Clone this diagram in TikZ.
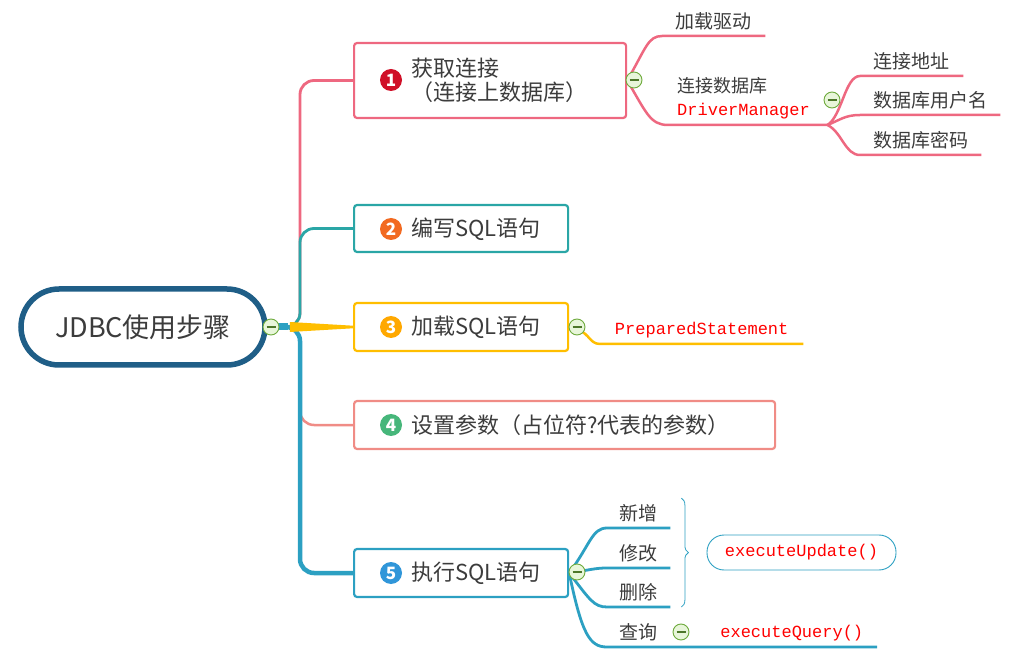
\documentclass[tikz,border=0pt]{standalone}
\usepackage{fontspec}
\setmainfont{Noto Sans CJK SC}
\setmonofont{Liberation Mono}
\usetikzlibrary{positioning, decorations.pathreplacing}
\definecolor{rootblue}{RGB}{31, 94, 135}
\definecolor{pinkline}{RGB}{238, 104, 128}
\definecolor{tealline}{RGB}{42, 166, 166}
\definecolor{amberline}{RGB}{255, 190, 0}
\definecolor{salmonline}{RGB}{240, 140, 134}
\definecolor{blueline}{RGB}{44, 160, 194}
\definecolor{textgray}{RGB}{60, 60, 60}
\definecolor{codered}{RGB}{255, 0, 0}
\definecolor{foldgreen}{RGB}{110, 170, 60}
\definecolor{foldfill}{RGB}{232, 246, 218}
\definecolor{dotred}{RGB}{208, 16, 40}
\definecolor{dotorange}{RGB}{242, 106, 33}
\definecolor{dotamber}{RGB}{255, 168, 0}
\definecolor{dotgreen}{RGB}{70, 182, 122}
\definecolor{dotblue}{RGB}{48, 150, 217}

\tikzset{
  topic/.style={draw=#1, line width=2.2pt, rounded corners=3pt, fill=white},
  numdot/.style={circle, fill=#1, text=white, inner sep=0pt, minimum size=22pt, font=\fontsize{17}{17}\selectfont\bfseries},
  fold/.style={circle, draw=foldgreen, line width=0.9pt, fill=foldfill, inner sep=0pt, minimum size=16pt,
    path picture={\draw[foldgreen!70!black, line width=1.2pt] ([xshift=3.5pt]path picture bounding box.west) -- ([xshift=-3.5pt]path picture bounding box.east);}},
  leaf/.style={anchor=south west, inner xsep=0pt, inner ysep=6pt, text=textgray, font=\fontsize{19}{22}\selectfont},
  code/.style={text=codered, font=\ttfamily\fontsize{17}{20}\selectfont},
}

\begin{document}
\begin{tikzpicture}[x=1pt, y=-1pt, font=\fontsize{22}{24}\selectfont, text=textgray]
  \useasboundingbox (0,0) rectangle (1010,660);

  % central topic
  \node[draw=rootblue, line width=5.5pt, rounded corners=38pt, minimum width=244pt, minimum height=76pt,
        font=\fontsize{27}{30}\selectfont] (root) at (143,327) {JDBC使用步骤};

  % the five steps
  \foreach \n/\y/\w/\h/\col in {1/80.5/272/75/pinkline, 2/228.5/214/47/tealline, 3/327/214/48/amberline,
                                 4/425/421/48/salmonline, 5/573/214/48/blueline}
    \node[topic=\col, minimum width=\w pt, minimum height=\h pt, anchor=west] (b\n) at (353,\y) {};

  \foreach \n/\y/\col/\txt in {1/80/dotred/{获取连接\\（连接上数据库）}, 2/229/dotorange/{编写SQL语句},
                               3/327/dotamber/{加载SQL语句}, 4/425/dotgreen/{设置参数（占位符?代表的参数）},
                               5/573/dotblue/{执行SQL语句}} {
    \node[numdot=\col] (d\n) at (391,\y) {\n};
    \node[anchor=west, align=left, inner sep=0pt] (t\n) at (411,\y) {\txt};
  }

  % main branches
  \draw[pinkline, line width=2.8pt, rounded corners=14pt] (root.east) -| ([xshift=-53]b1.west) -- (b1.west);
  \draw[tealline, line width=2.8pt, rounded corners=14pt] (root.east) -| ([xshift=-53]b2.west) -- (b2.west);
  \draw[salmonline, line width=2.5pt, rounded corners=14pt] (root.east) -| ([xshift=-53]b4.west) -- (b4.west);
  \draw[blueline, line width=4.5pt, rounded corners=14pt] (root.east) -| ([xshift=-53]b5.west) -- (b5.west);
  \draw[blueline, line width=7pt] (root.east) -- ++(20,0);
  \fill[amberline] ([xshift=22, yshift=-5]root.east) -- ([yshift=-1.3]b3.west) -- ([yshift=1.3]b3.west)
    -- ([xshift=22, yshift=5]root.east) -- cycle;

  % step 1
  \node[leaf, minimum width=103pt] (l11) at (662,36) {加载驱动};
  \node[leaf, text width=141pt, inner xsep=9pt, align=left, font=\fontsize{18}{23}\selectfont] (l12) at (668,125)
    {连接数据库\\{\ttfamily\fontsize{17}{20}\selectfont\color{codered}DriverManager}};
  \node[leaf, minimum width=103pt] (l13) at (860,76) {连接地址};
  \node[leaf, minimum width=140pt] (l14) at (860,115) {数据库用户名};
  \node[leaf, minimum width=121pt] (l15) at (860,155) {数据库密码};
  \draw[pinkline, line width=2.5pt] (b1.east) .. controls (646,48) and (648,36) .. (l11.south west) -- (l11.south east);
  \draw[pinkline, line width=2.5pt] (b1.east) .. controls (646,112) and (650,125) .. (l12.south west) -- (l12.south east);
  \draw[pinkline, line width=2.5pt] (l12.south east) .. controls (842,116) and (845,76) .. (l13.south west) -- (l13.south east);
  \draw[pinkline, line width=2.5pt] (l12.south east) .. controls (840,120) and (845,115) .. (l14.south west) -- (l14.south east);
  \draw[pinkline, line width=2.5pt] (l12.south east) .. controls (842,132) and (845,155) .. (l15.south west) -- (l15.south east);

  % step 3
  \node[leaf, code, minimum width=203pt] (l31) at (600,344) {PreparedStatement};
  \draw[amberline, line width=2.5pt] (b3.east) .. controls (590,330) and (588,344) .. (l31.south west) -- (l31.south east);

  % step 5
  \node[leaf, minimum width=63pt] (l51) at (607,528) {新增};
  \node[leaf, minimum width=63pt] (l52) at (607,568) {修改};
  \node[leaf, minimum width=63pt] (l53) at (607,607) {删除};
  \node[leaf, minimum width=63pt] (l54) at (607,647) {查询};
  \node[leaf, code, anchor=south east, minimum width=170pt] (l55) at (877,647) {executeQuery()};
  \draw[blueline, line width=2.8pt] (b5.east) .. controls (590,545) and (592,528) .. (l51.south west) -- (l51.south east);
  \draw[blueline, line width=2.8pt] (b5.east) .. controls (590,570) and (595,568) .. (l52.south west) -- (l52.south east);
  \draw[blueline, line width=2.8pt] (b5.east) .. controls (590,600) and (594,607) .. (l53.south west) -- (l53.south east);
  \draw[blueline, line width=2.8pt] (b5.east) .. controls (582,635) and (590,647) .. (l54.south west) -- (l55.south east);
  \draw[blueline, line width=0.8pt, decorate, decoration={brace, amplitude=7pt}]
    ([xshift=11]l51.north east) -- ([xshift=11]l53.south east);
  \node[draw=blueline, line width=0.9pt, rounded corners=17pt, minimum width=189pt, minimum height=35pt, code]
    (eu) at (801.5,552.5) {executeUpdate()};

  % collapse markers
  \foreach \x/\y [count=\i] in {271/327, 634/80, 832/100, 577/327, 577/572, 681/632}
    \node[fold] (c\i) at (\x,\y) {};
\end{tikzpicture}
\end{document}
